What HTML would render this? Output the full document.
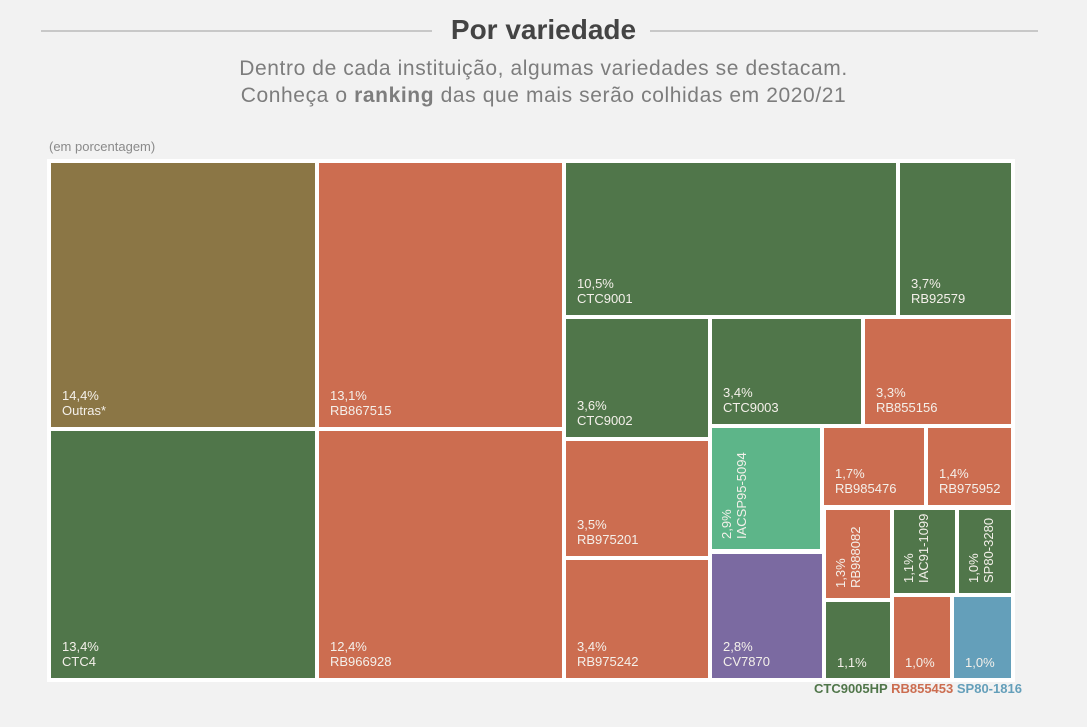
<!DOCTYPE html>
<html><head><meta charset="utf-8">
<style>
html,body{margin:0;padding:0;background:#f2f2f2;width:1087px;height:727px;overflow:hidden;font-family:"Liberation Sans",sans-serif;}
.title{position:absolute;top:14px;left:0;width:1087px;text-align:center;font-size:28px;font-weight:bold;color:#444;}
.rule{position:absolute;top:30px;height:2px;background:#c8c8c8;}
.sub{position:absolute;top:55px;left:0;width:1087px;text-align:center;font-size:21px;letter-spacing:0.6px;color:#7d7d7d;line-height:27px;}
.unit{position:absolute;top:139px;left:49px;font-size:13px;color:#8a8a8a;}
#chart{position:absolute;left:0;top:0;}
.legend{position:absolute;top:681px;left:814px;font-size:13px;font-weight:bold;font-family:"Liberation Sans",sans-serif;}
</style></head>
<body>
<div class="rule" style="left:41px;width:391px"></div>
<div class="rule" style="left:650px;width:388px"></div>
<div class="title">Por variedade</div>
<div class="sub">Dentro de cada instituição, algumas variedades se destacam.<br>Conheça o <b>ranking</b> das que mais serão colhidas em 2020/21</div>
<div class="unit">(em porcentagem)</div>
<svg id="chart" width="1087" height="727">
<rect x="47" y="159" width="968" height="523" fill="#fff"/>
</svg>
<div class="legend"><span style="color:#50764a">CTC9005HP</span> <span style="color:#cc6d50">RB855453</span> <span style="color:#649fba">SP80-1816</span></div>
<script>
const names=["Outras*","CTC4","RB867515","RB966928","CTC9001","RB92579","CTC9002","CTC9003","RB855156","RB975201","RB975242","IACSP95-5094","CV7870","RB985476","RB975952","RB988082","IAC91-1099","SP80-3280","","",""];
const values=[14.4,13.4,13.1,12.4,10.5,3.7,3.6,3.4,3.3,3.5,3.4,2.9,2.8,1.7,1.4,1.3,1.1,1.0,1.1,1.0,1.0];
const labels=["14,4%","13,4%","13,1%","12,4%","10,5%","3,7%","3,6%","3,4%","3,3%","3,5%","3,4%","2,9%","2,8%","1,7%","1,4%","1,3%","1,1%","1,0%","1,1%","1,0%","1,0%"];
const groups=["out","ctc","rb","rb","ctc","ctc","ctc","ctc","rb","rb","rb","iac","cv","rb","rb","rb","ctc","ctc","ctc","rb","sp"];
const vertical=[0,0,0,0,0,0,0,0,0,0,0,1,0,0,0,1,1,1,0,0,0];
/* layout cells [x0,y0,x1,y1] copied from reference arrangement */
const layout=[[51,163,315,427],[51,431,315,678],[319,163,562,427],[319,431,562,678],[566,163,896,315],[900,163,1011,315],[566,319,708,437],[712,319,861,424],[865,319,1011,424],[566,441,708,556],[566,560,708,678],[712,428,820,549],[712,554,822,678],[824,428,924,505],[928,428,1011,505],[826,510,890,598],[894,510,955,593],[959,510,1011,593],[826,602,890,678],[894,597,950,678],[954,597,1011,678]];
const colors={out:"#8b7645",ctc:"#50764a",rb:"#cc6d50",iac:"#5db589",cv:"#7b6aa1",sp:"#649fba"};
const svg=document.getElementById('chart');
const NS="http://www.w3.org/2000/svg";
values.forEach((v,i)=>{
  const [x0,y0,x1,y1]=layout[i];
  const r=document.createElementNS(NS,'rect');
  r.setAttribute('x',x0);r.setAttribute('y',y0);r.setAttribute('width',x1-x0);r.setAttribute('height',y1-y0);
  r.setAttribute('fill',colors[groups[i]]);
  
  
  svg.appendChild(r);
  const t=document.createElementNS(NS,'text');
  t.setAttribute('fill','#f4f0ea');t.setAttribute('font-size','13');
  t.setAttribute('font-family','"Liberation Sans",sans-serif');
  
  
  if(vertical[i]){
    const tx=x0+19, ty=y1-10;
    t.setAttribute('transform','translate('+tx+','+ty+') rotate(-90)');
    const a=document.createElementNS(NS,'tspan');a.setAttribute('x',0);a.setAttribute('y',0);a.textContent=labels[i];
    const b=document.createElementNS(NS,'tspan');b.setAttribute('x',0);b.setAttribute('y',15);b.textContent=names[i];
    t.appendChild(a);t.appendChild(b);
  } else if(names[i]){
    const a=document.createElementNS(NS,'tspan');a.setAttribute('x',x0+11);a.setAttribute('y',y1-27);a.textContent=labels[i];
    const b=document.createElementNS(NS,'tspan');b.setAttribute('x',x0+11);b.setAttribute('y',y1-12);b.textContent=names[i];
    t.appendChild(a);t.appendChild(b);
  } else {
    t.setAttribute('x',x0+11);t.setAttribute('y',y1-11);t.textContent=labels[i];
  }
  svg.appendChild(t);
});
</script>
</body></html>
